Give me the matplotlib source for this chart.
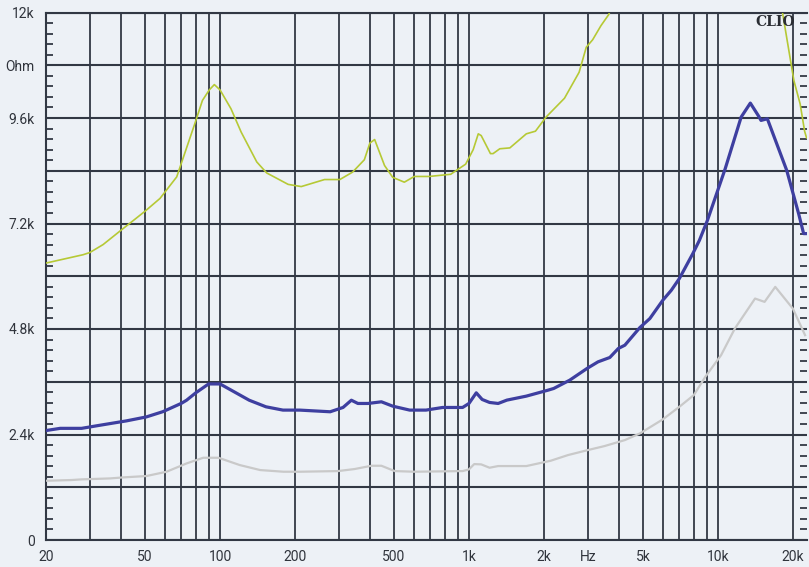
import matplotlib
matplotlib.use("Agg")
import matplotlib.pyplot as plt
from matplotlib.ticker import FixedLocator, FixedFormatter, NullFormatter
import numpy as np

# ---------------- data ----------------
freq_yellow = [20, 28.2, 30, 33.9, 40.3, 44.9, 50, 57.4, 67, 79.2, 85, 90.6, 94.9, 100,
               110.7, 121.6, 140.5, 154, 187.8, 212, 263, 303, 341, 380, 400, 418, 458,
               494, 550, 603, 692, 845, 870, 970, 1040, 1090, 1120, 1220, 1250, 1330,
               1460, 1700, 1850, 2040, 2420, 2770, 2960, 3140, 3390, 3640, 4000, 17500,
               18200, 20200, 21400, 22300, 22700]
imp_yellow = [6300, 6490, 6540, 6720, 7060, 7270, 7480, 7770, 8260, 9470, 10000, 10240,
              10360, 10240, 9810, 9280, 8600, 8350, 8090, 8040, 8200, 8200, 8370, 8650,
              9030, 9110, 8520, 8250, 8140, 8270, 8270, 8320, 8370, 8550, 8880, 9240,
              9200, 8790, 8790, 8900, 8920, 9240, 9300, 9620, 10050, 10640, 11210, 11380,
              11700, 11950, 12500, 12500, 11980, 10450, 9920, 9300, 9150]

freq_blue = [20, 22.8, 27.8, 32.9, 42.1, 50.6, 59, 70, 73.4, 80, 90, 100, 110, 131, 153,
             179, 209, 277, 312, 337, 358, 393, 445, 494, 578, 672, 784, 943, 1000, 1070,
             1130, 1210, 1310, 1420, 1700, 2080, 2190, 2540, 2980, 3300, 3680, 3980, 4230,
             4860, 5330, 6010, 6500, 7000, 7930, 8430, 9080, 10700, 12400, 13500, 14600,
             14900, 15800, 18900, 21100, 22100, 22700]
imp_blue = [2490, 2540, 2540, 2610, 2710, 2800, 2920, 3110, 3180, 3350, 3550, 3550, 3420,
            3180, 3030, 2955, 2955, 2917, 3015, 3180, 3106, 3106, 3144, 3045, 2955, 2955,
            3015, 3015, 3106, 3348, 3197, 3129, 3106, 3182, 3273, 3409, 3447, 3636, 3902,
            4053, 4152, 4356, 4432, 4833, 5038, 5455, 5682, 5947, 6515, 6818, 7273, 8447,
            9621, 9939, 9636, 9545, 9583, 8409, 7424, 6970, 6970]

freq_gray = [20, 25.3, 27.8, 36.2, 40.8, 50.6, 61, 73.4, 85.6, 98.6, 120, 145, 180, 209,
             298, 347, 406, 445, 503, 603, 943, 1000, 1050, 1120, 1210, 1310, 1700, 2130,
             2500, 3000, 3500, 4230, 4860, 6000, 7000, 8000, 8900, 10300, 11700, 14100,
             15400, 17000, 18100, 20000, 22400]
imp_gray = [1348, 1364, 1379, 1401, 1424, 1455, 1553, 1742, 1871, 1871, 1705, 1591, 1553,
            1553, 1568, 1614, 1689, 1689, 1568, 1553, 1568, 1606, 1727, 1720, 1644, 1682,
            1682, 1803, 1932, 2045, 2136, 2273, 2424, 2742, 3030, 3295, 3712, 4205, 4811,
            5493, 5417, 5758, 5568, 5265, 4659]

x_tick_pos = [20, 50, 100, 200, 500, 1000, 2000, 3000, 5000, 10000, 20000]
x_tick_labels = ["20", "50", "100", "200", "500", "1k", "2k", "Hz", "5k", "10k", "20k"]
y_tick_pos = [0, 1200, 2400, 3600, 4800, 6000, 7200, 8400, 9600, 10800, 12000]
y_tick_labels = ["0", "", "2.4k", "", "4.8k", "", "7.2k", "", "9.6k", "Ohm", "12k"]

# ---------------- style ----------------
BG = "#edf1f6"
GRID = "#323844"
TXT = "#30343c"

plt.rcParams['font.family'] = ['Roboto', 'DejaVu Sans']

fig = plt.figure(figsize=(8.09, 5.67), dpi=100, facecolor=BG)
ax = fig.add_axes([46 / 809, 27 / 567, (807 - 46) / 809, (540 - 12.5) / 567])
ax.set_facecolor(BG)

ax.set_xscale("log")
ax.set_xlim(20, 22800)
ax.set_ylim(0, 12000)

# vertical grid positions
minor_x = []
for dec in [10, 100, 1000, 10000]:
    for m in range(1, 10):
        v = m * dec
        if 20 <= v <= 20000 and v not in x_tick_pos:
            minor_x.append(v)
ax.xaxis.set_major_locator(FixedLocator(x_tick_pos))
ax.xaxis.set_major_formatter(FixedFormatter(x_tick_labels))
ax.xaxis.set_minor_locator(FixedLocator(minor_x))
ax.xaxis.set_minor_formatter(NullFormatter())

ax.yaxis.set_major_locator(FixedLocator(y_tick_pos))
ax.yaxis.set_major_formatter(FixedFormatter(y_tick_labels))
ax.yaxis.set_minor_locator(FixedLocator([v for v in np.arange(0, 12001, 240) if v % 1200 != 0]))

ax.grid(which="both", axis="x", color=GRID, linewidth=1.3)
ax.grid(which="major", axis="y", color=GRID, linewidth=1.5)
ax.set_axisbelow(True)

ax.tick_params(axis="x", which="both", length=0, pad=7, labelsize=10, labelcolor=TXT)
ax.tick_params(axis="y", which="major", length=0, pad=8, labelsize=10, labelcolor=TXT)
ax.tick_params(axis="y", which="minor", left=True, right=True, direction="in",
               length=5, width=1.3, color=GRID)

for s in ["left", "bottom", "top"]:
    ax.spines[s].set_color(GRID)
    ax.spines[s].set_linewidth(1.5)
ax.spines["right"].set_visible(False)

# curves
ax.plot(freq_gray, imp_gray, color="#c9c9c9", linewidth=1.6, zorder=3)
ax.plot(freq_yellow, imp_yellow, color="#b6c935", linewidth=1.2, zorder=4)
ax.plot(freq_blue, imp_blue, color="#3e3fa0", linewidth=2.3, zorder=5)

ax.text(0.984, 0.982, "CLIO", transform=ax.transAxes, ha="right", va="center",
        fontsize=10, fontweight="bold", family="DejaVu Serif", color="#2a2d33",
        zorder=6)

fig.savefig("out.png", dpi=100, facecolor=BG)
